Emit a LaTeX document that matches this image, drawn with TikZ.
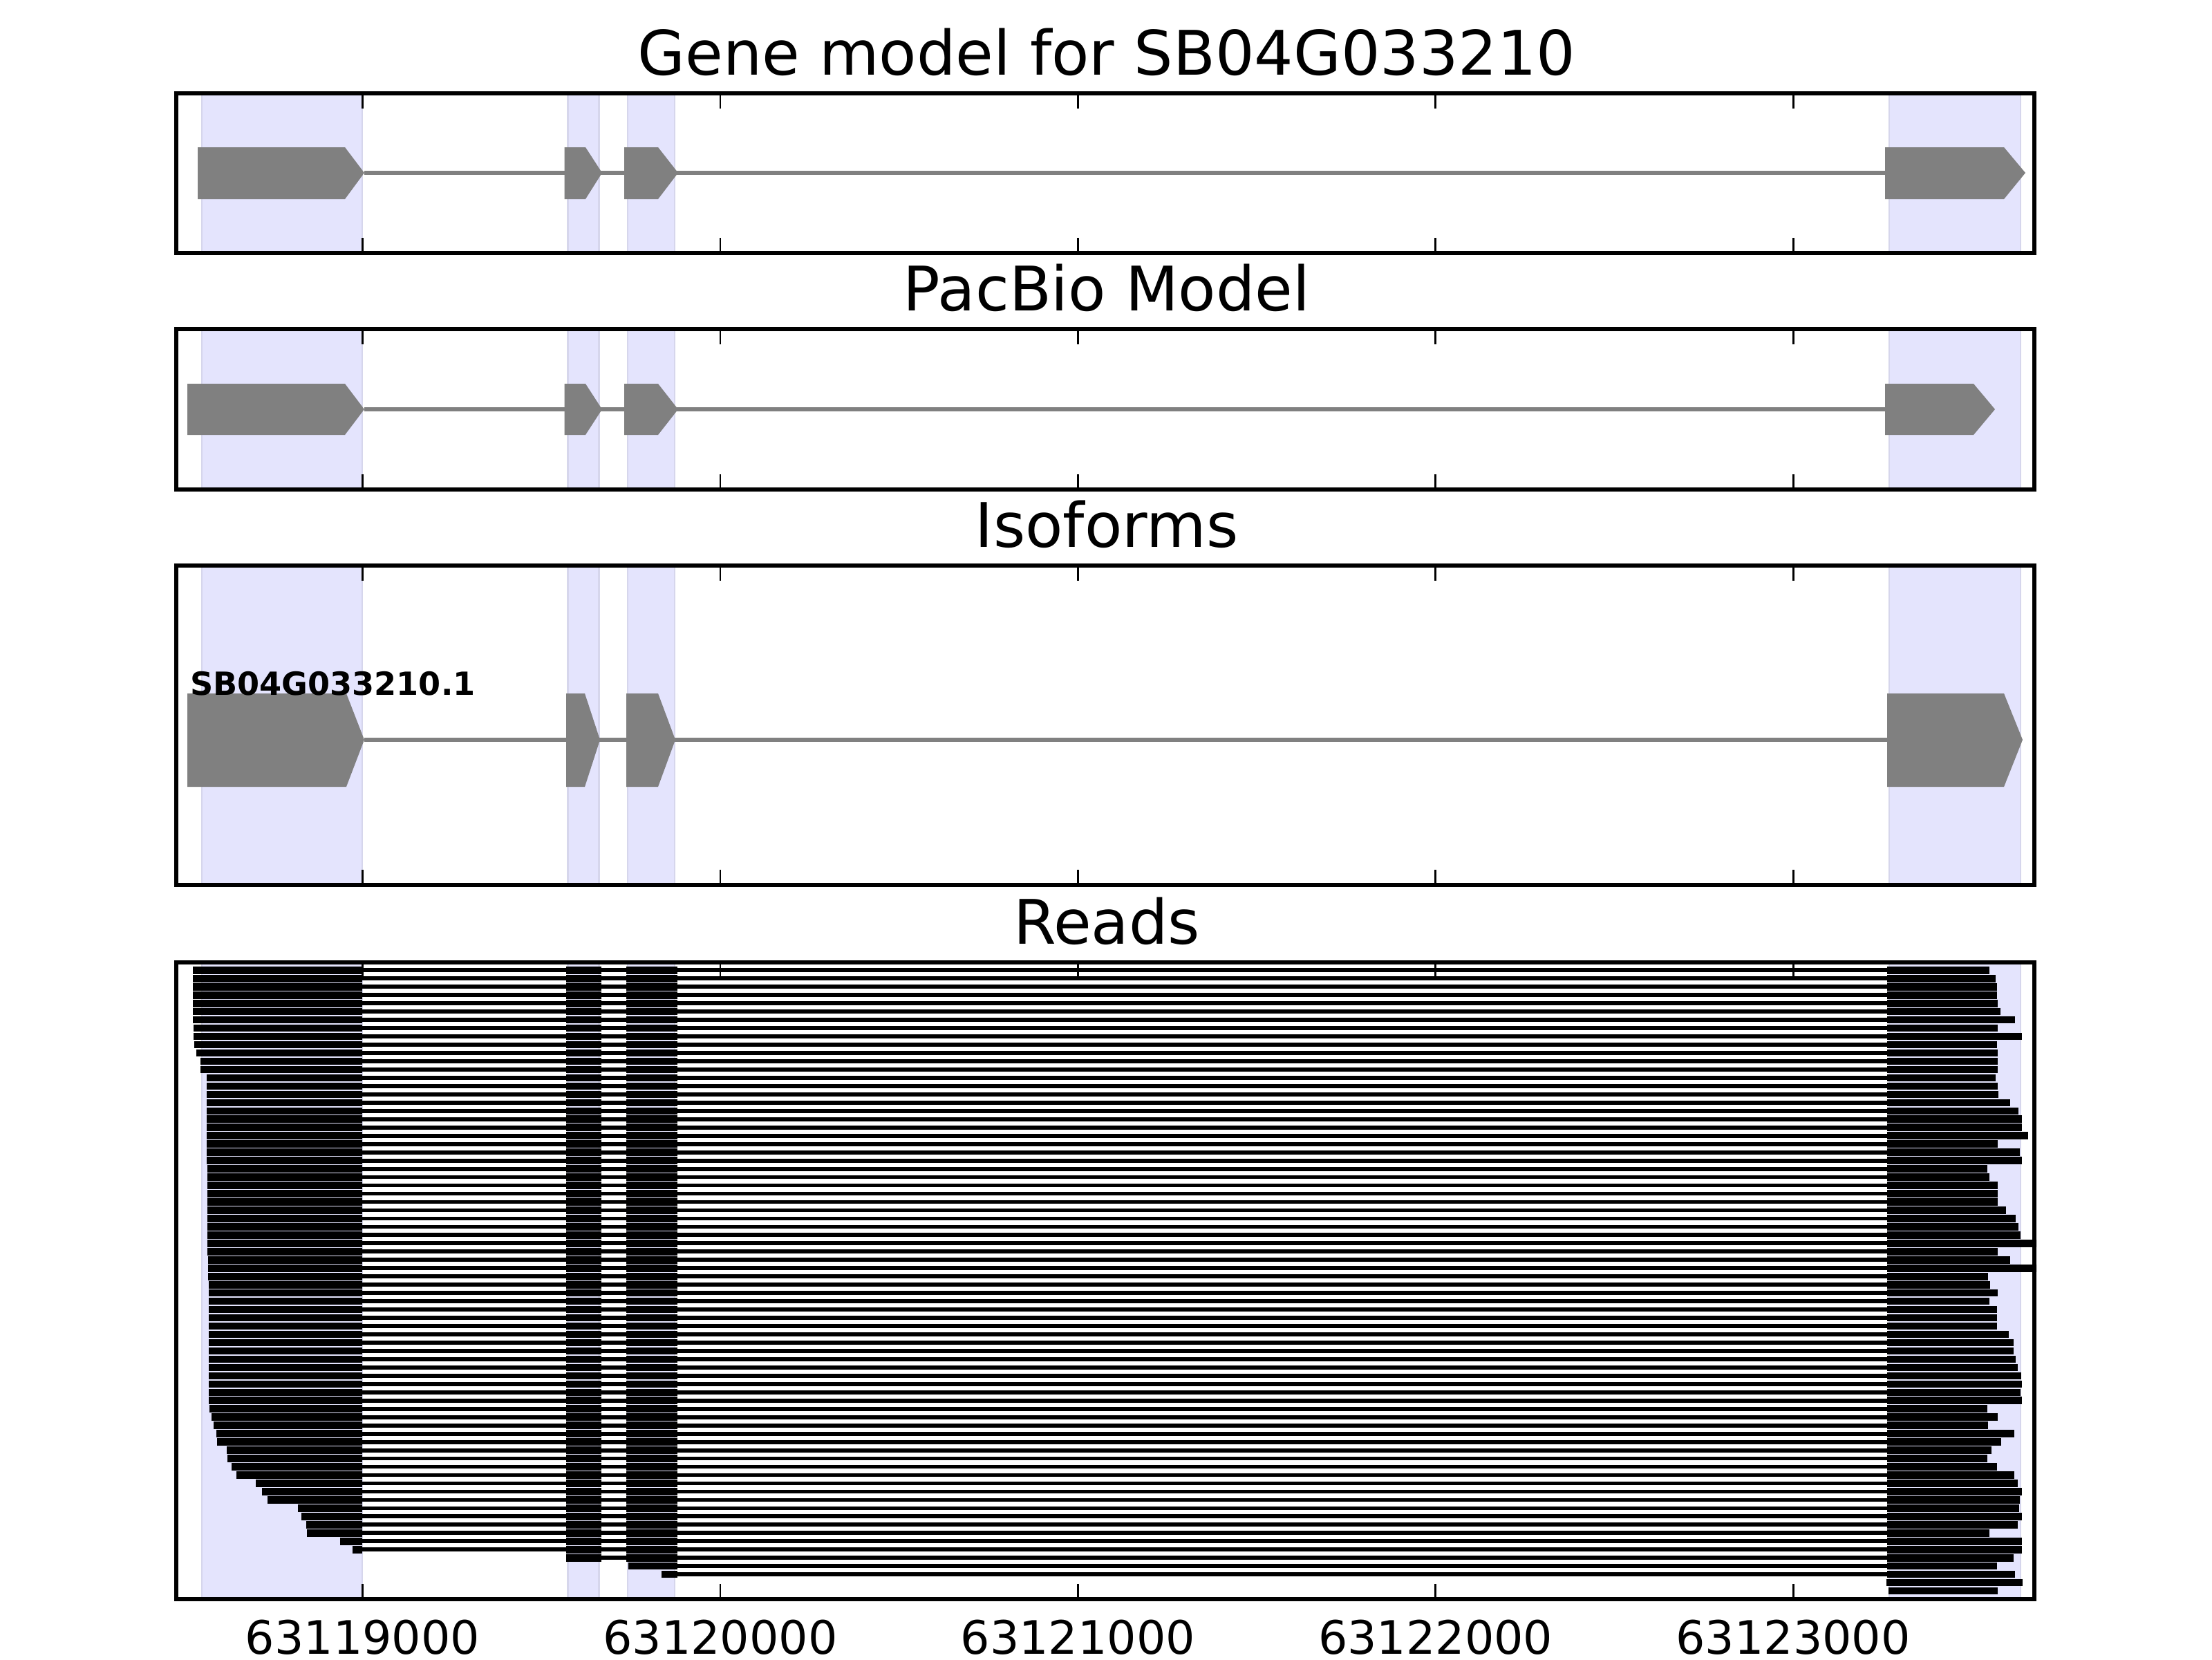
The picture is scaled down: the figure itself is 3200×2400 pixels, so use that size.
\documentclass[tikz,border=0pt]{standalone}
\usepackage{fontspec}
\setmainfont{DejaVu Sans}
\definecolor{band}{RGB}{228,228,253}
\definecolor{bandedge}{RGB}{214,214,236}
\definecolor{exongray}{RGB}{128,128,128}
\newcommand\mybands[2]{%
  \foreach \a/\b in {292/524,821.6/866.5,908/976,2733/2923}{%
    \filldraw[fill=band,draw=bandedge,line width=0.45pt] (\a,#1) rectangle (\b,#2);}}
\newcommand\geneshape[6]{%
  \fill[exongray] (#1,#4) -- (#2,#4) -- (#3,#5) -- (#2,#6) -- (#1,#6) -- cycle;}
\newcommand\frameticks[2]{%
  \draw[line width=1pt] (255,#1) rectangle (2943,#2);
  \foreach \t in {524.5,1041.9,1559.3,2076.7,2594.1}{%
    \draw[line width=0.5pt] (\t,#1) -- ++(0,22);
    \draw[line width=0.5pt] (\t,#2) -- ++(0,-22);}}
\begin{document}
\begin{tikzpicture}[x=0.18pt,y=-0.18pt,
  titletext/.style={anchor=base,font=\fontsize{16}{19}\selectfont},
  ticktext/.style={anchor=base,font=\fontsize{12}{14}\selectfont},
  intron/.style={exongray,line width=1pt}]
\useasboundingbox (0,0) rectangle (3200,2400);
\fill[white] (0,0) rectangle (3200,2400);

% ---------- Panel 1: gene model ----------
\node[titletext] (t1) at (1601,108) {Gene model for SB04G033210};
\mybands{135}{366}
\draw[intron] (527,250) -- (2727,250);
\geneshape{286}{499}{527}{213}{250}{288}
\geneshape{816.5}{847}{871}{213}{250}{288}
\geneshape{903}{952}{981}{213}{250}{288}
\geneshape{2727}{2899}{2930}{213}{250}{288}
\frameticks{135}{366}

% ---------- Panel 2: PacBio model ----------
\node[titletext] (t2) at (1601,449) {PacBio Model};
\mybands{476}{708}
\draw[intron] (527,592) -- (2727,592);
\geneshape{271}{499}{527}{555}{592}{629}
\geneshape{816.5}{847}{871}{555}{592}{629}
\geneshape{903}{952}{981}{555}{592}{629}
\geneshape{2727}{2855}{2886}{555}{592}{629}
\frameticks{476}{708}

% ---------- Panel 3: isoforms ----------
\node[titletext] (t3) at (1601,791) {Isoforms};
\mybands{818}{1280}
\draw[intron] (527,1070) -- (2730,1070);
\geneshape{271}{501}{527}{1003}{1070}{1138}
\geneshape{819}{846}{868}{1003}{1070}{1138}
\geneshape{906}{952}{977}{1003}{1070}{1138}
\geneshape{2730}{2899}{2926}{1003}{1070}{1138}
\node[anchor=base west,inner sep=0pt,font=\bfseries\fontsize{8.3}{10}\selectfont] (iso) at (274,1005) {SB04G033210.1};
\frameticks{818}{1280}

% ---------- Panel 4: reads ----------
\node[titletext] (t4) at (1601,1365) {Reads};
\mybands{1392}{2313}
\begin{scope}
\clip (255,1392) rectangle (2946,2313);
\foreach \n/\s/\e in {1/278.8/593,2/278.8/620,3/278.8/626,4/278.8/626,5/278.8/629,
  6/278.8/641,7/278.8/704,8/279.8/629,9/279.8/734,10/280.8/626,11/283.9/629,
  12/289.5/629,13/289.5/629,14/298.7/620,15/298.7/629,16/298.7/632,17/298.7/683,
  18/298.7/719,19/298.7/734,20/298.7/734,21/298.7/761,22/299.2/629,23/299.2/726,
  24/299.2/734,25/300.2/584,26/300.2/593,27/300.2/629,28/300.2/629,29/300.2/629,
  30/300.2/665,31/300.2/707,32/300.2/719,33/300.2/728,34/300.2/900,35/300.2/629,
  36/301.2/683,37/301.2/900,38/301.2/587,39/302.2/596,40/302.2/629,41/302.2/593,
  42/302.2/626,43/302.2/626,44/302.2/626,45/302.2/677,46/302.2/698,47/302.2/698,
  48/302.2/707,49/302.2/716,50/302.2/731,51/302.2/734,52/302.2/728,53/302.2/734,
  54/303.3/584,55/305.8/629,56/308.9/587,57/313/701,58/314/644,59/327.8/602,
  60/328.8/584,61/334.9/626,62/342/701,63/370/716,64/378.8/734,65/387/725,
  66/430.8/722,67/436.4/734,68/442.6/716,69/443.6/593,70/491.5/734,71/509.9/734}{
  \pgfmathsetmacro\yy{1403.3+(\n-1)*11.97}
  \pgfmathsetmacro\xe{2680+\e/3}
  \fill (\s,\yy-5.3) rectangle (524.2,\yy+5.3);
  \fill (524.2,\yy-2.9) rectangle (819,\yy+2.9);
  \fill (819,\yy-5.3) rectangle (870,\yy+5.3);
  \fill (870,\yy-2.9) rectangle (906,\yy+2.9);
  \fill (906,\yy-5.3) rectangle (980,\yy+5.3);
  \fill (980,\yy-2.9) rectangle (2730,\yy+2.9);
  \fill (2730,\yy-5.3) rectangle (\xe,\yy+5.3);
}
% row 72: starts at exon 2
\pgfmathsetmacro\yy{1403.3+71*11.97}
\fill (819,\yy-5.3) rectangle (870,\yy+5.3);
\fill (870,\yy-2.9) rectangle (906,\yy+2.9);
\fill (906,\yy-5.3) rectangle (980,\yy+5.3);
\fill (980,\yy-2.9) rectangle (2730,\yy+2.9);
\fill (2730,\yy-5.3) rectangle (2912.7,\yy+5.3);
% row 73: starts at exon 3
\pgfmathsetmacro\yy{1403.3+72*11.97}
\fill (909,\yy-5.3) rectangle (980,\yy+5.3);
\fill (980,\yy-2.9) rectangle (2730,\yy+2.9);
\fill (2730,\yy-5.3) rectangle (2888.7,\yy+5.3);
% row 74: starts inside exon 3
\pgfmathsetmacro\yy{1403.3+73*11.97}
\fill (957,\yy-5.3) rectangle (980,\yy+5.3);
\fill (980,\yy-2.9) rectangle (2730,\yy+2.9);
\fill (2730,\yy-5.3) rectangle (2914.7,\yy+5.3);
% rows 75, 76: last exon only
\pgfmathsetmacro\yy{1403.3+74*11.97}
\fill (2729,\yy-5.3) rectangle (2925.7,\yy+5.3);
\pgfmathsetmacro\yy{1403.3+75*11.97}
\fill (2732,\yy-5.3) rectangle (2889.7,\yy+5.3);
\end{scope}
\frameticks{1392}{2313}

% ---------- x tick labels ----------
\node[ticktext] (x1) at (524.5,2392) {63119000};
\node[ticktext] (x2) at (1041.9,2392) {63120000};
\node[ticktext] (x3) at (1559.3,2392) {63121000};
\node[ticktext] (x4) at (2076.7,2392) {63122000};
\node[ticktext] (x5) at (2594.1,2392) {63123000};
\end{tikzpicture}
\end{document}
